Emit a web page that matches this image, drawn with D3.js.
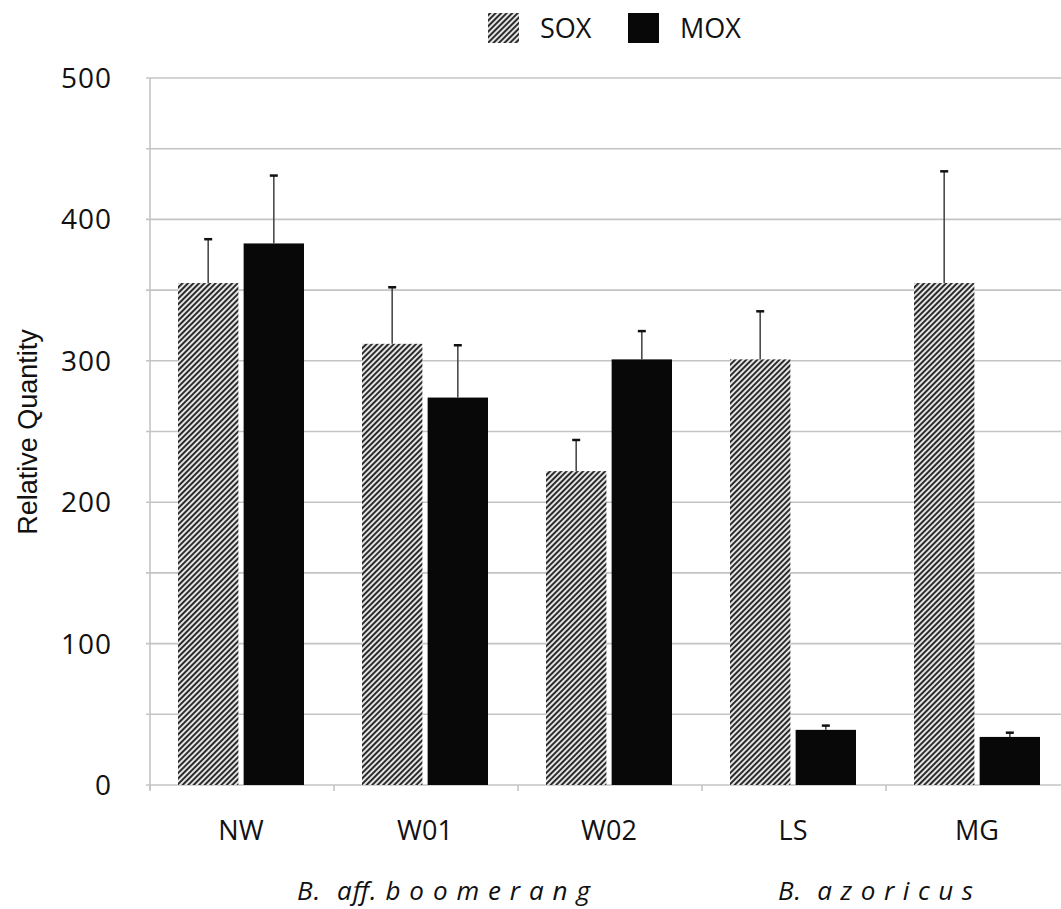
<!DOCTYPE html>
<html>
<head>
<meta charset="utf-8">
<script src="https://cdn.jsdelivr.net/npm/d3@7/dist/d3.min.js"></script>
<style>
  html, body { margin: 0; padding: 0; background: #fff; }
  svg { display: block; }
</style>
</head>
<body>
<svg id="chart" width="1061" height="909"></svg>
<script>
// ---- data ----
const categories = ["NW", "W01", "W02", "LS", "MG"];
const seriesNames = ["SOX", "MOX"];
const soxValues = [355, 312, 222, 301, 355];
const soxErrors = [31, 40, 22, 34, 79];
const moxValues = [383, 274, 301, 39, 34];
const moxErrors = [48, 37, 20, 3, 3];
const yTickValues = [0, 100, 200, 300, 400, 500];
const yGridValues = [0, 50, 100, 150, 200, 250, 300, 350, 400, 450, 500];
const groupLabels = ["B.  aff. b o o m e r a n g", "B.  a z o r i c u s"];

// ---- layout ----
const W = 1061, H = 909;
const plotL = 150, plotR = 1070, plotT = 78, plotB = 785;
const textColor = "#111";
const svg = d3.select("#chart");

const defs = svg.append("defs");
const pat = defs.append("pattern")
  .attr("id", "hatch")
  .attr("patternUnits", "userSpaceOnUse")
  .attr("width", 3.9).attr("height", 10)
  .attr("patternTransform", "rotate(45)");
pat.append("rect").attr("width", 3.9).attr("height", 10).attr("fill", "#e4e4e4");
pat.append("rect").attr("width", 1.9).attr("height", 10).attr("fill", "#262626");

const x = d3.scaleBand().domain(categories).range([plotL, plotR]).paddingInner(0).paddingOuter(0);
const xs = d3.scaleBand().domain(seriesNames).range([28, 154]).paddingInner(0.08).paddingOuter(0);
const y = d3.scaleLinear().domain([0, 500]).range([plotB, plotT]);

// grid lines
svg.append("g").selectAll("line").data(yGridValues).join("line")
  .attr("x1", plotL - 4).attr("x2", W)
  .attr("y1", d => y(d)).attr("y2", d => y(d))
  .attr("stroke", "#c4c4c4").attr("stroke-width", 1.6);

// y axis line
svg.append("line").attr("x1", plotL).attr("x2", plotL)
  .attr("y1", y(500)).attr("y2", plotB + 5)
  .attr("stroke", "#c4c4c4").attr("stroke-width", 1.6);

// x ticks at category boundaries
const bounds = categories.map(c => x(c)).concat([x(categories[categories.length - 1]) + x.bandwidth()]);
svg.append("g").selectAll("line").data(bounds).join("line")
  .attr("x1", d => d).attr("x2", d => d)
  .attr("y1", plotB).attr("y2", plotB + 6)
  .attr("stroke", "#c4c4c4").attr("stroke-width", 1.6);

// y tick labels
svg.append("g").selectAll("text").data(yTickValues).join("text")
  .attr("x", 112).attr("y", d => y(d))
  .attr("dy", "0.36em")
  .attr("text-anchor", "end")
  .attr("font-family", "'Open Sans', sans-serif")
  .attr("font-size", 28)
  .attr("letter-spacing", 1)
  .attr("fill", textColor)
  .text(d => d);

// bars
const rows = categories.map((c, i) => ({
  c,
  vals: [
    { s: "SOX", v: soxValues[i], e: soxErrors[i] },
    { s: "MOX", v: moxValues[i], e: moxErrors[i] }
  ]
}));

const g = svg.append("g").selectAll("g").data(rows).join("g")
  .attr("transform", d => `translate(${x(d.c)},0)`);

g.selectAll("rect").data(d => d.vals).join("rect")
  .attr("x", d => xs(d.s))
  .attr("width", xs.bandwidth())
  .attr("y", d => y(d.v))
  .attr("height", d => y(0) - y(d.v))
  .attr("fill", d => d.s === "SOX" ? "url(#hatch)" : "#080808");

// error bars
g.selectAll("line.err").data(d => d.vals).join("line")
  .attr("class", "err")
  .attr("x1", d => xs(d.s) + xs.bandwidth() / 2)
  .attr("x2", d => xs(d.s) + xs.bandwidth() / 2)
  .attr("y1", d => y(d.v)).attr("y2", d => y(d.v + d.e))
  .attr("stroke", "#4a4a4a").attr("stroke-width", 1.6);
g.selectAll("line.cap").data(d => d.vals).join("line")
  .attr("class", "cap")
  .attr("x1", d => xs(d.s) + xs.bandwidth() / 2 - 4)
  .attr("x2", d => xs(d.s) + xs.bandwidth() / 2 + 4)
  .attr("y1", d => y(d.v + d.e)).attr("y2", d => y(d.v + d.e))
  .attr("stroke", "#111").attr("stroke-width", 2.5);

// category labels
svg.append("g").selectAll("text").data(categories).join("text")
  .attr("x", d => x(d) + x.bandwidth() / 2 - 1)
  .attr("y", 840)
  .attr("text-anchor", "middle")
  .attr("font-family", "'Open Sans', sans-serif")
  .attr("font-size", 27)
  .attr("fill", textColor)
  .text(d => d);

// group labels
const groupPos = [[297, 293], [778, 195]];
svg.append("g").selectAll("text").data(groupLabels).join("text")
  .attr("x", (d, i) => groupPos[i][0])
  .attr("y", 900)
  .attr("textLength", (d, i) => groupPos[i][1])
  .attr("lengthAdjust", "spacing")
  .style("white-space", "pre")
  .attr("font-family", "'Open Sans', sans-serif")
  .attr("font-style", "italic")
  .attr("font-size", 26)
  .attr("fill", textColor)
  .text(d => d);

// y axis title
svg.append("text")
  .attr("transform", "translate(37,432) rotate(-90)")
  .attr("text-anchor", "middle")
  .attr("font-family", "'Liberation Sans', Arial, sans-serif")
  .attr("font-size", 27)
  .attr("fill", textColor)
  .text("Relative Quantity");

// legend
const legend = svg.append("g");
const legendItems = [
  { s: "SOX", x: 488, fill: "url(#hatch)" },
  { s: "MOX", x: 628, fill: "#080808" }
];
legend.selectAll("rect").data(legendItems).join("rect")
  .attr("x", d => d.x).attr("y", 13)
  .attr("width", 31).attr("height", 30)
  .attr("fill", d => d.fill);
legend.selectAll("text").data(legendItems).join("text")
  .attr("x", d => d.x + 52).attr("y", 38)
  .attr("font-family", "'Open Sans', sans-serif")
  .attr("font-size", 27)
  .attr("fill", textColor)
  .text(d => d.s);
</script>
</body>
</html>
